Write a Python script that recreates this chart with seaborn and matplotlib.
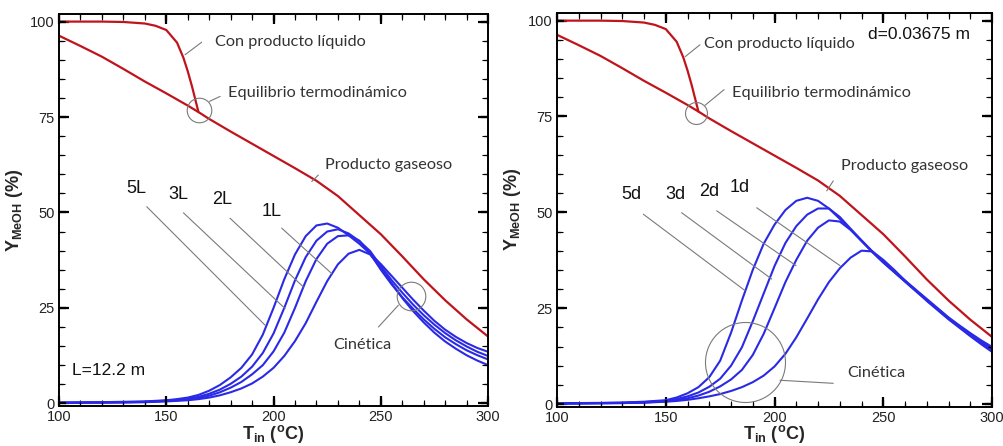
import numpy as np
import pandas as pd
import matplotlib
matplotlib.use("Agg")
import matplotlib.pyplot as plt
from matplotlib.ticker import MultipleLocator
import seaborn as sns

# ── Data ──────────────────────────────────────────────────
T_BLUE = [100, 110, 120, 130, 140, 150] + list(range(155, 301, 5))

# left panel: reactor length multiples
Y_5L = [0.2, 0.25, 0.3, 0.4, 0.5, 0.8, 1.1, 1.5, 2.2, 3.3, 4.8, 6.8, 9.3, 12.8, 18.0, 25.0,
        32.5, 39.0, 43.8, 46.6, 47.1, 46.0, 44.0, 41.8, 39.2, 36.5, 33.4, 30.3, 27.2, 24.3,
        21.6, 19.3, 17.4, 15.8, 14.5, 13.5]
Y_3L = [0.15, 0.2, 0.25, 0.3, 0.4, 0.7, 0.9, 1.2, 1.7, 2.5, 3.6, 5.1, 7.0, 9.6, 13.2, 18.3,
        25.0, 32.2, 38.3, 42.6, 45.0, 45.6, 44.5, 42.5, 39.9, 36.0, 32.3, 29.0, 25.9, 23.1,
        20.6, 18.4, 16.5, 14.9, 13.5, 12.4]
Y_2L = [0.1, 0.15, 0.2, 0.25, 0.35, 0.6, 0.8, 1.0, 1.4, 2.0, 2.9, 4.1, 5.6, 7.6, 10.0, 13.6,
        18.5, 25.0, 32.0, 37.8, 41.8, 43.8, 44.0, 42.6, 39.3, 35.0, 31.2, 27.8, 24.8, 22.0,
        19.5, 17.3, 15.5, 13.9, 12.6, 11.5]
Y_1L = [0.1, 0.15, 0.2, 0.25, 0.3, 0.5, 0.65, 0.8, 1.1, 1.5, 2.1, 2.9, 3.9, 5.2, 7.0, 9.3,
        12.4, 16.3, 21.0, 26.6, 32.0, 36.4, 39.2, 40.2, 39.0, 35.5, 31.5, 27.6, 24.2, 21.2,
        18.5, 16.2, 14.3, 12.6, 11.2, 10.0]

# right panel: diameter multiples
Y_5d = [0.2, 0.25, 0.3, 0.4, 0.6, 1.0, 1.7, 2.8, 4.4, 7.0, 11.3, 18.6, 27.0, 35.0, 41.8, 46.8,
        50.6, 53.0, 53.8, 53.0, 51.0, 48.3, 45.5, 42.6, 39.7, 37.0, 34.6, 32.2, 29.8, 27.4,
        25.0, 22.6, 20.5, 18.5, 16.6, 14.9]
Y_3d = [0.15, 0.2, 0.25, 0.3, 0.5, 0.8, 1.3, 2.0, 3.0, 4.5, 6.6, 10.0, 14.8, 21.6, 28.8, 36.0,
        42.0, 46.4, 49.4, 51.0, 51.0, 48.8, 45.7, 42.7, 39.8, 37.0, 34.5, 32.0, 29.6, 27.2,
        24.8, 22.4, 20.3, 18.2, 16.3, 14.5]
Y_2d = [0.1, 0.15, 0.2, 0.25, 0.4, 0.7, 1.0, 1.5, 2.2, 3.2, 4.6, 6.4, 8.9, 12.8, 18.3, 25.0,
        31.8, 37.6, 42.6, 46.0, 47.9, 47.6, 45.4, 42.5, 39.6, 36.9, 34.4, 31.9, 29.4, 27.0,
        24.6, 22.2, 20.1, 18.0, 16.0, 14.1]
Y_1d = [0.1, 0.15, 0.2, 0.25, 0.35, 0.6, 0.8, 1.1, 1.5, 2.0, 2.6, 3.4, 4.4, 5.7, 7.4, 9.8,
        13.1, 17.4, 22.3, 27.3, 31.8, 35.4, 38.2, 40.0, 39.8, 37.6, 35.0, 32.2, 29.6, 26.9,
        24.5, 22.1, 19.9, 17.7, 15.6, 13.6]

# equilibrium curves (same in both panels)
T_GAS = [100, 110, 120, 130, 140, 150, 160, 165, 170, 180, 190, 200, 210, 220, 230, 240,
         250, 260, 270, 280, 290, 300]
Y_GAS = [96.3, 93.6, 90.8, 87.6, 84.3, 81.2, 78.0, 76.3, 74.5, 71.2, 68.0, 64.8, 61.6, 58.3,
         54.3, 49.3, 44.3, 38.5, 32.5, 27.0, 22.0, 17.5]
T_LIQ = [100, 120, 130, 140, 145, 150, 155, 158, 160, 162, 165]
Y_LIQ = [100, 100, 99.9, 99.5, 98.9, 97.8, 94.5, 90.5, 87.0, 83.0, 76.3]

LEFT_CURVES = {"5L": Y_5L, "3L": Y_3L, "2L": Y_2L, "1L": Y_1L}
RIGHT_CURVES = {"5d": Y_5d, "3d": Y_3d, "2d": Y_2d, "1d": Y_1d}

# ── Annotations: (text, text pos, leader start, leader end) ─
LEFT_LABELS = [("5L", (136.2, 54.1), (140.9, 51.5), (196.0, 20.5)),
               ("3L", (155.6, 52.4), (158.0, 49.9), (205.4, 24.8)),
               ("2L", (175.8, 51.1), (179.7, 48.5), (213.9, 30.5)),
               ("1L", (199.2, 48.0), (203.8, 45.9), (227.1, 34.0))]
RIGHT_LABELS = [("5d", (134.0, 52.5), (139.7, 49.5), (186.4, 29.6)),
                ("3d", (154.3, 52.5), (157.3, 49.9), (198.7, 32.6)),
                ("2d", (170.0, 53.2), (173.4, 50.4), (209.9, 36.1)),
                ("1d", (184.1, 54.3), (191.8, 51.2), (230.1, 36.1))]
LEFT_NOTES = [("Con producto líquido", (172.7, 94.7), (166.5, 94.6), (158.7, 91.3)),
              ("Equilibrio termodinámico", (178.9, 81.4), (170.1, 79.1), (175.1, 80.4)),
              ("Producto gaseoso", (224.0, 62.5), (217.8, 58.1), (220.9, 59.8)),
              ("Cinética", (227.9, 15.2), (258.2, 25.7), (248.9, 20.0))]
RIGHT_NOTES = [("Con producto líquido", (167.6, 93.8), (165.7, 93.7), (158.9, 90.6)),
               ("Equilibrio termodinámico", (180.6, 81.1), (168.0, 77.9), (176.8, 82.0)),
               ("Producto gaseoso", (230.4, 62.1), (224.0, 55.6), (227.0, 58.2)),
               ("Cinética", (233.2, 8.0), (202.5, 6.2), (227.0, 5.4))]
# circles: (center, diameter in points)
LEFT_CIRCLES = [((165.4, 76.9), 17.7), ((264.1, 28.1), 20.6)]
RIGHT_CIRCLES = [((163.9, 75.9), 15.8), ((186.4, 11.0), 57.6)]

C_RED = "#C0141C"
C_BLUE = "#2A2AE6"
C_GRAY = "#7A7A7A"
C_TXT = "#333333"
FIG_W, FIG_H, DPI = 10.04, 4.46, 100

sns.set_style("ticks")
plt.rcParams.update({
    "font.family": ["Liberation Sans", "DejaVu Sans"],
    "mathtext.fontset": "custom",
    "mathtext.rm": "Liberation Sans",
    "mathtext.it": "Liberation Sans:italic",
    "mathtext.bf": "Liberation Sans:bold",
})


def inward_ticks(ax):
    # tick marks drawn as short segments inside the frame, on all four sides
    pos = ax.get_position()
    w_px = pos.width * FIG_W * DPI
    h_px = pos.height * FIG_H * DPI
    x0, x1 = ax.get_xlim()
    y0, y1 = ax.get_ylim()
    specs = ((ax.xaxis.get_majorticklocs(), ax.yaxis.get_majorticklocs(), 7, 1.6),
             (ax.xaxis.get_minorticklocs(), ax.yaxis.get_minorticklocs(), 4, 0.9))
    for xlocs, ylocs, length, width in specs:
        xs = [v for v in xlocs if x0 <= v <= x1]
        ys = [v for v in ylocs if y0 <= v <= y1]
        fy = length / h_px
        fx = length / w_px
        tx = ax.get_xaxis_transform()
        ty = ax.get_yaxis_transform()
        ax.vlines(xs, 0, fy, transform=tx, colors="black", lw=width, zorder=6)
        ax.vlines(xs, 1 - fy, 1, transform=tx, colors="black", lw=width, zorder=6)
        ax.hlines(ys, 0, fx, transform=ty, colors="black", lw=width, zorder=6)
        ax.hlines(ys, 1 - fx, 1, transform=ty, colors="black", lw=width, zorder=6)
    ax.set_xlim(x0, x1)
    ax.set_ylim(y0, y1)


def draw_panel(ax, curves, labels, notes, circles, tag, tag_pos):
    sns.lineplot(x=T_GAS, y=Y_GAS, ax=ax, color=C_RED, lw=1.6, sort=False)
    sns.lineplot(x=T_LIQ, y=Y_LIQ, ax=ax, color=C_RED, lw=1.6, sort=False)
    for name, ys in curves.items():
        sns.lineplot(x=T_BLUE, y=ys, ax=ax, color=C_BLUE, lw=1.5, sort=False)

    for txt, tpos, p0, p1 in labels:
        ax.plot([p0[0], p1[0]], [p0[1], p1[1]], color=C_GRAY, lw=0.8)
        ax.text(tpos[0], tpos[1], txt, fontsize=13, color="#111111",
                ha="center", va="bottom")
    for txt, tpos, p0, p1 in notes:
        ax.plot([p0[0], p1[0]], [p0[1], p1[1]], color=C_GRAY, lw=0.8)
        ax.text(tpos[0], tpos[1], txt, fontsize=11.7, color=C_TXT, family="Lato",
                ha="left", va="center")
    for (cx, cy), ms in circles:
        ax.plot([cx], [cy], marker="o", ms=ms, mfc="none", mec=C_GRAY, mew=0.8)

    ax.text(tag_pos[0], tag_pos[1], tag, fontsize=12.5, color="#111111",
            ha="left", va="center")

    ax.set_xlim(100, 300)
    ax.set_ylim(-0.7, 102)
    ax.xaxis.set_major_locator(MultipleLocator(50))
    ax.xaxis.set_minor_locator(MultipleLocator(10))
    ax.yaxis.set_major_locator(MultipleLocator(25))
    ax.yaxis.set_minor_locator(MultipleLocator(5))
    ax.tick_params(which="both", direction="in", bottom=True, left=True,
                   top=True, right=True, color="black", labelcolor="#222222",
                   labelsize=10.5, pad=3)
    ax.tick_params(which="major", length=7, width=1.6)
    ax.tick_params(which="minor", length=4, width=0.8)
    ax.set_xlabel(r"$\mathbf{T_{in}\ (^{o}C)}$", fontsize=13, labelpad=-1)
    ax.set_ylabel(r"$\mathbf{Y_{MeOH}\ (\%)}$", fontsize=13, labelpad=4)
    for s in ax.spines.values():
        s.set_color("black")
        s.set_linewidth(1.4)
    inward_ticks(ax)


fig = plt.figure(figsize=(FIG_W, FIG_H), dpi=DPI)
ax1 = fig.add_axes([0.0588, 0.0897, 0.4273, 0.879])
ax2 = fig.add_axes([0.5548, 0.0881, 0.4333, 0.8828])

draw_panel(ax1, LEFT_CURVES, LEFT_LABELS, LEFT_NOTES, LEFT_CIRCLES,
           "L=12.2 m", (105.9, 8.7))
draw_panel(ax2, RIGHT_CURVES, RIGHT_LABELS, RIGHT_NOTES, RIGHT_CIRCLES,
           "d=0.03675 m", (243.1, 96.3))

fig.savefig("out.png", dpi=DPI)
